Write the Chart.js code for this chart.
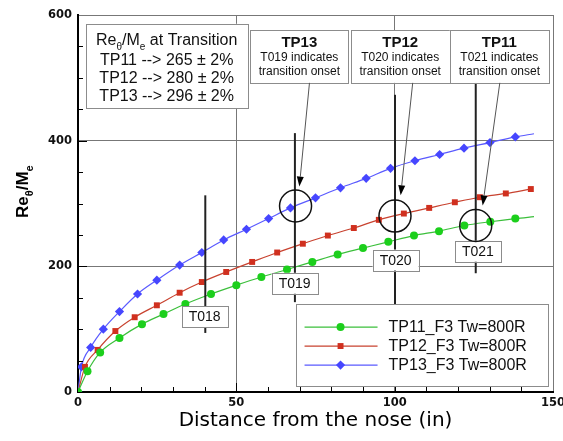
<!DOCTYPE html>
<html>
<head>
<meta charset="utf-8">
<script src="https://cdn.jsdelivr.net/npm/chart.js@4.4.1/dist/chart.umd.min.js"></script>
<style>
  html, body { margin: 0; padding: 0; background: #fff; }
</style>
</head>
<body>
<canvas id="reChart" width="563" height="441"></canvas>
<script>
// Re_theta / Me along the body for three test points
const xTP11 = [0, 3.0, 7.0, 13.1, 20.2, 27.0, 33.9, 42.0, 50.0, 57.9, 66.0, 74.0, 82.0, 90.0, 98.0, 106.1, 114.0, 122.0, 130.2, 138.1, 144.0];
const yTP11 = [0, 33, 63, 86, 108, 124, 140, 156, 170, 183, 195, 207, 219, 229, 239, 249, 256, 265, 271, 276, 279];

const xTP12 = [0, 2.2, 6.2, 11.8, 17.9, 24.9, 32.1, 39.1, 46.8, 55.0, 62.9, 71.0, 78.9, 87.1, 95.0, 102.9, 110.9, 119.0, 126.9, 135.1, 143.0];
const yTP12 = [0, 40, 67, 97, 119, 138, 158, 175, 191, 207, 222, 236, 249, 261, 274, 284, 293, 302, 310, 316, 323];

const xTP13 = [0, 1.1, 4.0, 8.0, 13.1, 18.8, 24.9, 32.1, 39.1, 46.0, 53.2, 60.2, 67.1, 75.0, 82.9, 91.0, 98.7, 106.4, 114.2, 121.9, 130.1, 138.1, 144.0];
const yTP13 = [0, 40, 71, 100, 128, 156, 178, 202, 222, 242, 259, 276, 293, 309, 325, 340, 356, 368, 378, 388, 397, 406, 411];

const seriesNames = ['TP11_F3 Tw=800R', 'TP12_F3 Tw=800R', 'TP13_F3 Tw=800R'];

// transition summary
const transitionNames = ['TP11', 'TP12', 'TP13'];
const transitionRe = [265, 280, 296];
const transitionGauge = ['T021', 'T020', 'T019'];
const transitionX = [125.6, 100.1, 68.7];

const xTicks = [0, 50, 100, 150];
const yTicks = [0, 200, 400, 600];

// thermocouple markers (x in inches, vertical extent in Re/Me units)
const gauges = [
  { name: 'T018', x: 40.2, y0: 94, y1: 313, bx: 40.0, by: 120 },
  { name: 'T019', x: 68.5, y0: 143, y1: 412, bx: 68.4, by: 173 },
  { name: 'T020', x: 100.1, y0: 138, y1: 473, bx: 100.3, by: 210 },
  { name: 'T021', x: 125.6, y0: 189, y1: 492, bx: 126.3, by: 224 }
];

// callout boxes and arrows, in axis units
const callouts = [
  { i: 2, x0: 54.4, x1: 85.4, from: [73.1, 492], to: [69.9, 327] },
  { i: 1, x0: 86.1, x1: 117.4, from: [105.7, 492], to: [101.9, 313] },
  { i: 0, x0: 117.4, x1: 148.7, from: [133.2, 492], to: [127.8, 297] }
];

const colors = ['#1ccf1c', '#d0301f', '#4646ff'];
const lineColors = ['#3bbf3b', '#c8422f', '#5a5aff'];
const styles = ['circle', 'rect', 'rectRot'];
const radii = [4, 4.2, 4.6];

function pts(xs, ys) { return xs.map((x, i) => ({ x: x, y: ys[i] })); }

const SANS = '"Liberation Sans", Arial, Helvetica, sans-serif';

function frameBox(ctx, x0, y0, x1, y1) {
  ctx.fillStyle = '#fff';
  ctx.fillRect(x0, y0, x1 - x0, y1 - y0);
  ctx.strokeStyle = '#8c8c8c';
  ctx.lineWidth = 1;
  ctx.strokeRect(Math.round(x0) + 0.5, Math.round(y0) + 0.5, Math.round(x1 - x0), Math.round(y1 - y0));
}

// text with subscripts: parts = [[text, isSub], ...]
function richText(ctx, parts, x, y, size, weight, align) {
  const fontMain = weight + ' ' + size + 'px ' + SANS;
  const fontSub = weight + ' ' + Math.round(size * 0.62) + 'px ' + SANS;
  let total = 0;
  parts.forEach(p => { ctx.font = p[1] ? fontSub : fontMain; total += ctx.measureText(p[0]).width; });
  let cx = align === 'center' ? x - total / 2 : x;
  ctx.textAlign = 'left';
  ctx.textBaseline = 'alphabetic';
  parts.forEach(p => {
    ctx.font = p[1] ? fontSub : fontMain;
    ctx.fillText(p[0], cx, y + (p[1] ? size * 0.3 : 0));
    cx += ctx.measureText(p[0]).width;
  });
}

function arrow(ctx, x0, y0, x1, y1) {
  const a = Math.atan2(y1 - y0, x1 - x0);
  const len = 10, half = 3.5;
  ctx.strokeStyle = '#555';
  ctx.lineWidth = 1;
  ctx.beginPath();
  ctx.moveTo(x0, y0);
  ctx.lineTo(x1 - Math.cos(a) * len, y1 - Math.sin(a) * len);
  ctx.stroke();
  ctx.fillStyle = '#000';
  ctx.beginPath();
  ctx.moveTo(x1, y1);
  ctx.lineTo(x1 - Math.cos(a) * len - Math.sin(a) * half, y1 - Math.sin(a) * len + Math.cos(a) * half);
  ctx.lineTo(x1 - Math.cos(a) * len + Math.sin(a) * half, y1 - Math.sin(a) * len - Math.cos(a) * half);
  ctx.closePath();
  ctx.fill();
}

function marker(ctx, style, x, y, r, color) {
  ctx.fillStyle = color;
  ctx.beginPath();
  if (style === 'circle') {
    ctx.arc(x, y, r, 0, Math.PI * 2);
  } else if (style === 'rect') {
    const s = r * Math.SQRT1_2;
    ctx.rect(x - s, y - s, 2 * s, 2 * s);
  } else {
    ctx.moveTo(x, y - r); ctx.lineTo(x + r, y); ctx.lineTo(x, y + r); ctx.lineTo(x - r, y); ctx.closePath();
  }
  ctx.fill();
}

const overlay = {
  id: 'overlay',
  afterDatasetsDraw(chart) {
    const { ctx, chartArea: ca } = chart;
    const sx = chart.scales.x, sy = chart.scales.y;
    const px = v => sx.getPixelForValue(v);
    const py = v => sy.getPixelForValue(v);
    ctx.save();

    // inward tick marks
    ctx.strokeStyle = '#000';
    ctx.lineWidth = 1;
    ctx.beginPath();
    for (let v = 10; v < 150; v += 10) {
      const X = Math.round(px(v)) + 0.5;
      ctx.moveTo(X, ca.bottom);
      ctx.lineTo(X, ca.bottom - (v % 50 === 0 ? 9 : 5));
    }
    for (let v = 50; v < 600; v += 50) {
      const Y = Math.round(py(v)) + 0.5;
      ctx.moveTo(ca.left, Y);
      ctx.lineTo(ca.left + (v % 200 === 0 ? 9 : 5), Y);
    }
    ctx.stroke();

    // thermocouple lines and tags
    gauges.forEach(g => {
      ctx.strokeStyle = '#222';
      ctx.lineWidth = 2;
      ctx.beginPath();
      ctx.moveTo(px(g.x), py(g.y0));
      ctx.lineTo(px(g.x), py(g.y1));
      ctx.stroke();
    });
    gauges.forEach(g => {
      const cx = px(g.bx), cy = py(g.by);
      frameBox(ctx, cx - 23, cy - 10.5, cx + 23, cy + 10.5);
      ctx.fillStyle = '#111';
      ctx.font = '14px ' + SANS;
      ctx.textAlign = 'center';
      ctx.textBaseline = 'middle';
      ctx.fillText(g.name, cx, cy + 1);
    });

    // transition circles
    transitionRe.forEach((re, i) => {
      ctx.strokeStyle = '#111';
      ctx.lineWidth = 1.5;
      ctx.beginPath();
      ctx.arc(px(transitionX[i]), py(re), 16, 0, Math.PI * 2);
      ctx.stroke();
    });

    // callouts
    callouts.forEach(c => {
      const x0 = px(c.x0), x1 = px(c.x1);
      const y0 = ca.top + 15, y1 = py(492);
      frameBox(ctx, x0, y0, x1, y1);
      const mid = (x0 + x1) / 2;
      ctx.fillStyle = '#111';
      ctx.textAlign = 'center';
      ctx.textBaseline = 'alphabetic';
      ctx.font = 'bold 15px ' + SANS;
      ctx.fillText(transitionNames[c.i], mid, y0 + 17);
      ctx.font = '12px ' + SANS;
      ctx.fillText(transitionGauge[c.i] + ' indicates', mid, y0 + 31);
      ctx.fillText('transition onset', mid, y0 + 45);
      arrow(ctx, px(c.from[0]), py(c.from[1]), px(c.to[0]), py(c.to[1]));
    });

    // summary box
    {
      const x0 = px(2.5), x1 = px(53.5), y0 = py(586), y1 = py(452);
      frameBox(ctx, x0, y0, x1, y1);
      const mid = (x0 + x1) / 2;
      ctx.fillStyle = '#111';
      richText(ctx, [['Re', 0], ['\u03b8', 1], ['/M', 0], ['e', 1], [' at Transition', 0]], mid, y0 + 21, 16, 'normal', 'center');
      transitionNames.forEach((n, i) => {
        ctx.font = '16px ' + SANS;
        ctx.textAlign = 'center';
        ctx.fillText(n + ' --> ' + transitionRe[i] + ' \u00b1 2%', mid, y0 + 41 + i * 18);
      });
    }

    // legend
    {
      const x0 = px(68.7), x1 = px(148.4), y0 = py(140), y1 = py(9.5);
      frameBox(ctx, x0, y0, x1, y1);
      chart.data.datasets.forEach((ds, i) => {
        const y = y0 + 23 + i * 19;
        ctx.strokeStyle = lineColors[i];
        ctx.lineWidth = 1.2;
        ctx.beginPath();
        ctx.moveTo(x0 + 9, y);
        ctx.lineTo(x0 + 82, y);
        ctx.stroke();
        marker(ctx, styles[i], x0 + 45, y, radii[i], colors[i]);
        ctx.fillStyle = '#111';
        ctx.font = '16px ' + SANS;
        ctx.textAlign = 'left';
        ctx.textBaseline = 'middle';
        ctx.fillText(ds.label, x0 + 93, y + 1);
      });
    }

    ctx.restore();
  },
  afterDraw(chart) {
    const { ctx } = chart;
    ctx.save();
    ctx.fillStyle = '#000';
    ctx.translate(28, 218);
    ctx.rotate(-Math.PI / 2);
    richText(ctx, [['Re', 0], ['\u03b8', 1], ['/M', 0], ['e', 1]], 0, 0, 17, 'bold', 'left');
    ctx.restore();
  }
};

const datasets = [pts(xTP11, yTP11), pts(xTP12, yTP12), pts(xTP13, yTP13)].map((d, i) => ({
  label: seriesNames[i],
  data: d,
  borderColor: lineColors[i],
  backgroundColor: colors[i],
  pointBackgroundColor: colors[i],
  pointBorderColor: colors[i],
  borderWidth: 1.2,
  pointStyle: styles[i],
  // green and blue curves run on a little past their last marker
  pointRadius: c => ((i !== 1 && c.dataIndex === d.length - 1) ? 0 : radii[i]),
  pointBorderWidth: 0,
  tension: 0.15,
  cubicInterpolationMode: 'monotone'
}));

const tickFont = { family: 'DejaVu Sans', weight: 'bold', size: 11.5 };

new Chart(document.getElementById('reChart').getContext('2d'), {
  type: 'line',
  data: { datasets: datasets },
  options: {
    responsive: false,
    animation: false,
    devicePixelRatio: 1,
    layout: { padding: { top: 15, right: 10, left: 0, bottom: 0 } },
    plugins: { legend: { display: false }, tooltip: { enabled: false } },
    scales: {
      x: {
        type: 'linear',
        min: 0,
        max: 150,
        afterBuildTicks: s => { s.ticks = xTicks.map(v => ({ value: v })); },
        afterFit: s => { s.height = 49; s.paddingLeft = 0; s.paddingRight = 0; },
        grid: { color: '#777', lineWidth: 1, drawTicks: false },
        border: { color: '#000', width: 2 },
        ticks: { padding: 4, color: '#111', font: tickFont },
        title: {
          display: true,
          text: 'Distance from the nose (in)',
          color: '#000',
          font: { family: 'DejaVu Sans', size: 20 },
          padding: { top: 0, bottom: 8 }
        }
      },
      y: {
        min: 0,
        max: 600,
        afterBuildTicks: s => { s.ticks = yTicks.map(v => ({ value: v })); },
        afterFit: s => { s.width = 78; s.paddingTop = 0; s.paddingBottom = 0; },
        grid: { color: '#777', lineWidth: 1, drawTicks: false },
        border: { color: '#000', width: 2 },
        ticks: { padding: 6, color: '#111', font: tickFont }
      }
    }
  },
  plugins: [overlay]
});
</script>
</body>
</html>
